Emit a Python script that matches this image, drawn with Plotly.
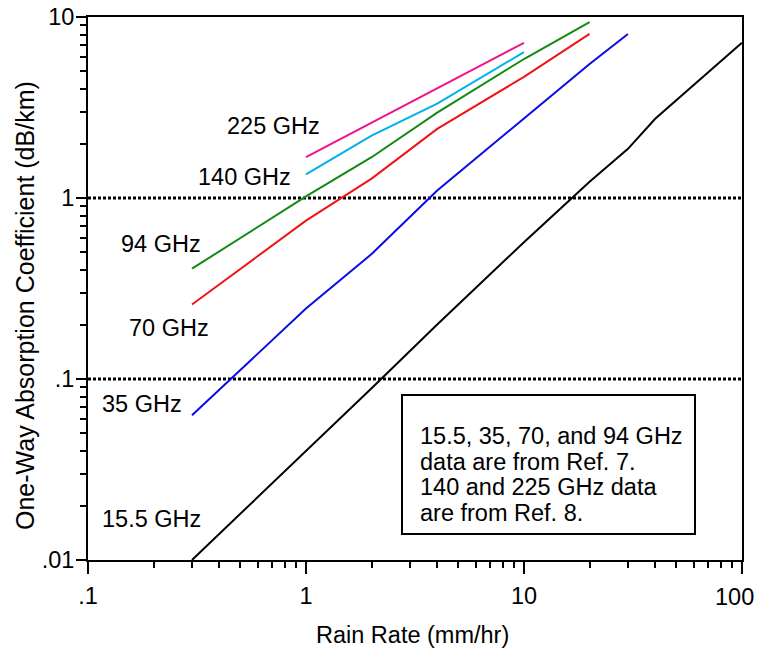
import plotly.graph_objects as go

FONT = "Liberation Sans, Arial, Helvetica, sans-serif"

# Rain rate (mm/hr) and one-way absorption coefficient (dB/km) per frequency
rate_155 = [0.3, 1, 2, 4, 10, 20, 30, 40, 100]
att_155 = [0.01, 0.040, 0.089, 0.20, 0.57, 1.23, 1.87, 2.74, 7.2]

rate_35 = [0.3, 1, 2, 4, 10, 20, 30]
att_35 = [0.063, 0.245, 0.49, 1.1, 2.75, 5.5, 8.06]

rate_70 = [0.3, 1, 2, 4, 10, 20]
att_70 = [0.258, 0.75, 1.28, 2.41, 4.67, 8.06]

rate_94 = [0.3, 1, 2, 4, 10, 20]
att_94 = [0.407, 1.02, 1.68, 2.96, 5.86, 9.38]

rate_140 = [1, 2, 4, 10]
att_140 = [1.35, 2.21, 3.32, 6.4]

rate_225 = [1, 2, 4, 10]
att_225 = [1.68, 2.6, 4.0, 7.2]

ref_levels = [1, 0.1]

x_tickvals = [0.1, 1, 10, 100]
x_ticktext = [".1", "1", "10", "100"]
y_tickvals = [0.01, 0.1, 1, 10]
y_ticktext = [".01", ".1", "1", "10"]

series = [
    (rate_155, att_155, "#000000", "15.5 GHz"),
    (rate_35, att_35, "#0a0ae6", "35 GHz"),
    (rate_70, att_70, "#f01414", "70 GHz"),
    (rate_94, att_94, "#138a13", "94 GHz"),
    (rate_140, att_140, "#00b0ee", "140 GHz"),
    (rate_225, att_225, "#f0148c", "225 GHz"),
]

fig = go.Figure()
for lv in ref_levels:
    fig.add_trace(go.Scatter(x=[0.1, 100], y=[lv, lv], mode="lines",
                             line=dict(color="black", width=3, dash="3px,2px"),
                             showlegend=False, hoverinfo="skip"))
for xs, ys, col, name in series:
    fig.add_trace(go.Scatter(x=xs, y=ys, mode="lines", name=name,
                             line=dict(color=col, width=2), showlegend=False))

# layout geometry (pixels)
L, R, T, B = 88, 742, 17, 560
W, H = 759, 654
pw, ph = R - L, B - T


def px(xp):
    return (xp - L) / pw


def py(yp):
    return (B - yp) / ph


FS = 23.5
labels = [("225 GHz", 273, 126), ("140 GHz", 244, 177), ("94 GHz", 161, 244),
          ("70 GHz", 169, 328), ("35 GHz", 142, 404), ("15.5 GHz", 151, 519)]
for txt, xc, yc in labels:
    fig.add_annotation(text=txt, x=px(xc), y=py(yc), xref="paper", yref="paper",
                       xanchor="center", yanchor="middle", showarrow=False,
                       font=dict(family=FONT, size=FS, color="black"))

box_lines = ["15.5, 35, 70, and 94 GHz", "data are from Ref. 7.",
             "140 and 225 GHz data", "are from Ref. 8."]
for i, t in enumerate(box_lines):
    fig.add_annotation(text=t, x=px(418), y=py(436 + i * 25.7), xref="paper", yref="paper",
                       xanchor="left", yanchor="middle", showarrow=False,
                       font=dict(family=FONT, size=FS, color="black"))

fig.add_shape(type="rect", xref="paper", yref="paper",
              x0=px(402), x1=px(695), y0=py(534), y1=py(395),
              line=dict(color="black", width=2), fillcolor="white", layer="below")

# last x tick label drawn shifted inward so it fits in the page (as in the original)
fig.add_annotation(text=x_ticktext[-1], x=px(734), y=py(597), xref="paper", yref="paper",
                   xanchor="center", yanchor="middle", showarrow=False,
                   font=dict(family=FONT, size=FS, color="black"))

# axis titles as annotations for exact placement
fig.add_annotation(text="Rain Rate (mm/hr)", x=px(412), y=py(635),
                   xref="paper", yref="paper", xanchor="center", yanchor="middle",
                   showarrow=False, font=dict(family=FONT, size=23.5, color="black"))
fig.add_annotation(text="One-Way Absorption Coefficient (dB/km)", x=px(25), y=py(306),
                   xref="paper", yref="paper", xanchor="center", yanchor="middle",
                   textangle=-90, showarrow=False,
                   font=dict(family=FONT, size=25, color="black"))

minor_x = [m * 10 ** e for e in (-1, 0, 1) for m in range(2, 10)]
minor_y = [m * 10 ** e for e in (-2, -1, 0) for m in range(2, 10)]

fig.update_xaxes(type="log", range=[-1, 2.0003], tickvals=x_tickvals,
                 ticktext=x_ticktext[:-1] + [""], automargin=False,
                 ticks="outside", ticklen=12, tickwidth=2, tickcolor="black",
                 ticklabelstandoff=2,
                 minor=dict(tickvals=minor_x, ticks="outside", ticklen=6, tickwidth=2, tickcolor="black"),
                 showline=True, linecolor="black", linewidth=2, mirror=True,
                 showgrid=False, zeroline=False,
                 tickfont=dict(family=FONT, size=FS, color="black"))
fig.update_yaxes(type="log", range=[-2, 1], tickvals=y_tickvals, ticktext=y_ticktext,
                 automargin=False,
                 ticks="outside", ticklen=10, tickwidth=2, tickcolor="black",
                 ticklabelstandoff=-3,
                 minor=dict(tickvals=minor_y, ticks="outside", ticklen=6, tickwidth=2, tickcolor="black"),
                 showline=True, linecolor="black", linewidth=2, mirror=True,
                 showgrid=False, zeroline=False,
                 tickfont=dict(family=FONT, size=FS, color="black"))

fig.update_layout(width=W, height=H, margin=dict(l=L, r=W - R, t=T, b=H - B),
                  paper_bgcolor="white", plot_bgcolor="white",
                  font=dict(family=FONT, color="black"))

fig.write_html("out.html")
